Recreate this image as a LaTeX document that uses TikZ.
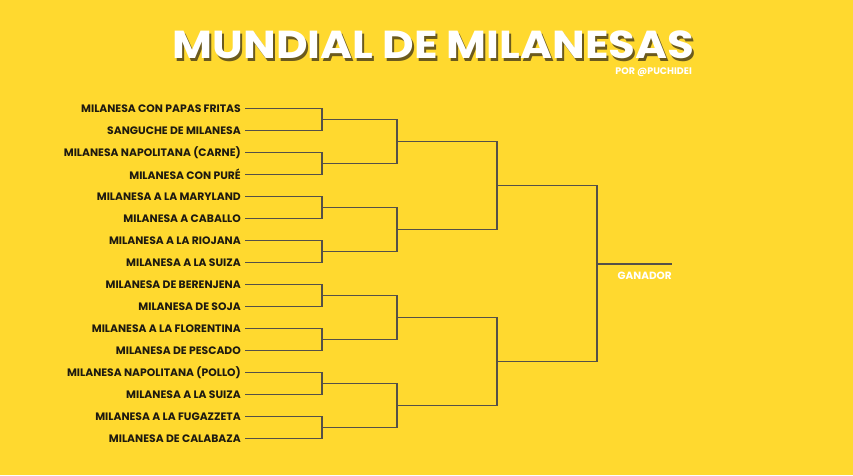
\documentclass[tikz,border=0pt]{standalone}
\usepackage{fontspec}
\setmainfont{Poppins}
\usetikzlibrary{calc}

\definecolor{bgyellow}{HTML}{FFD92F}
\definecolor{linegray}{HTML}{555048}
\definecolor{shadowbrown}{HTML}{6B5A1E}
\definecolor{entrytext}{HTML}{1E1A10}

\newcommand\titlestr{\scalebox{1.115}[1]{MUNDIAL DE MILANESAS}}

\begin{document}
\begin{tikzpicture}[x=1pt,y=-1pt,
    line/.style={draw=linegray,line width=1.1pt},
    entry/.style={anchor=east,inner sep=0pt,text=entrytext,font=\fontsize{10.8}{12}\selectfont\bfseries},
    titletext/.style={anchor=base,inner sep=0pt,text depth=0pt,font=\fontsize{39}{42}\selectfont\bfseries}]
  % Background
  \fill[bgyellow] (0,0) rectangle (853,475);
  \useasboundingbox (0,0) rectangle (853,475);
  % Title
  \node[titletext,text=shadowbrown] (shadow) at (435.5,61.5) {\titlestr};
  \node[titletext,text=white] (title) at (433.5,58.5) {\titlestr};
  \node[anchor=base east,inner sep=0pt,text depth=0pt,text=white,font=\fontsize{9.5}{10}\selectfont\bfseries] (author) at (692,74) {POR @PUCHIDEI};
  % Entries
  \foreach \t [count=\i] in {MILANESA CON PAPAS FRITAS,SANGUCHE DE MILANESA,MILANESA NAPOLITANA (CARNE),MILANESA CON PURÉ,MILANESA A LA MARYLAND,MILANESA A CABALLO,MILANESA A LA RIOJANA,MILANESA A LA SUIZA,MILANESA DE BERENJENA,MILANESA DE SOJA,MILANESA A LA FLORENTINA,MILANESA DE PESCADO,MILANESA NAPOLITANA (POLLO),MILANESA A LA SUIZA,MILANESA A LA FUGAZZETA,MILANESA DE CALABAZA} {
    \pgfmathsetmacro\y{108.5+22*(\i-1)}
    \node[entry] (e\i) at (241,\y) {\t};
    \coordinate (s\i) at ($(e\i.east)+(4,0)$);
    \coordinate (r\i) at (322,\y);
  }
  % Round 1
  \foreach \k in {1,...,8} {
    \pgfmathtruncatemacro\a{2*\k-1}
    \pgfmathtruncatemacro\b{2*\k}
    \draw[line] (s\a) -- (r\a) -- (r\b) -- (s\b);
    \coordinate (m\k) at ($(r\a)!0.5!(r\b)$);
  }
  % Round 2
  \foreach \k in {1,...,4} {
    \pgfmathtruncatemacro\a{2*\k-1}
    \pgfmathtruncatemacro\b{2*\k}
    \draw[line] (m\a) -| ($(m\b)+(75,0)$) -- (m\b);
    \coordinate (n\k) at ($(m\a)!0.5!(m\b)+(75,0)$);
  }
  % Round 3
  \foreach \k in {1,2} {
    \pgfmathtruncatemacro\a{2*\k-1}
    \pgfmathtruncatemacro\b{2*\k}
    \draw[line] (n\a) -| ($(n\b)+(100,0)$) -- (n\b);
    \coordinate (f\k) at ($(n\a)!0.5!(n\b)+(100,0)$);
  }
  % Final
  \draw[line] (f1) -| ($(f2)+(100,0)$) -- (f2);
  \coordinate (join) at (597,264);
  \coordinate (win) at (672,264);
  \draw[line] (join) -- (win);
  \node[anchor=east,inner sep=0pt,text=white,font=\fontsize{10.5}{12}\selectfont\bfseries] (winner) at (672,276) {GANADOR};
\end{tikzpicture}
\end{document}
